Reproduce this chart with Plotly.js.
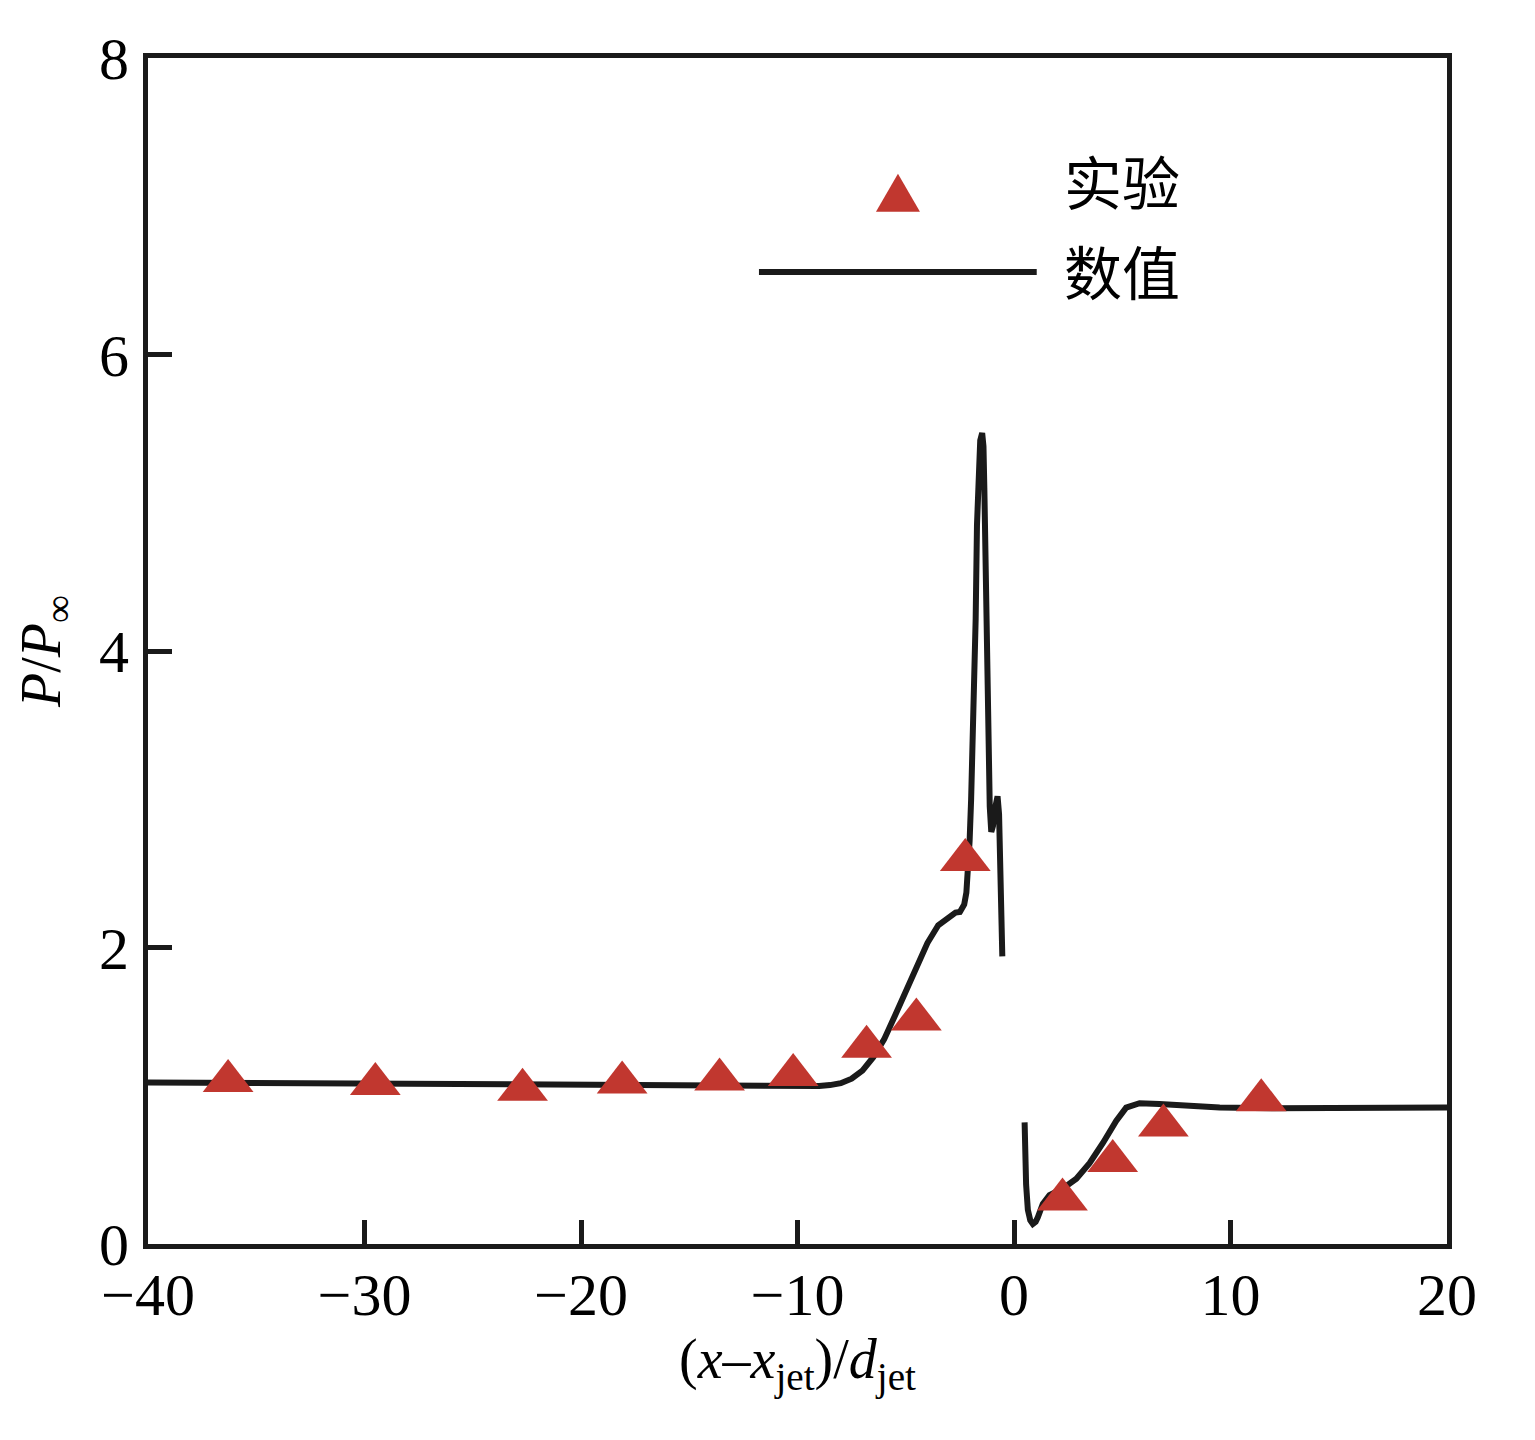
<!DOCTYPE html>
<html>
<head>
<meta charset="utf-8">
<script src="https://cdn.plot.ly/plotly-3.0.1.min.js"></script>
<style>
  body { margin: 0; background: #ffffff; }
  #chart { width: 1535px; height: 1440px; }
</style>
</head>
<body>
<div id="chart"></div>
<script>
// experiment (triangles)
var expX = [-36.3, -29.5, -22.7, -18.1, -13.6, -10.2, -6.81, -4.51, -2.25, 2.24, 4.56, 6.90, 11.42];
var expY = [1.10, 1.08, 1.04, 1.09, 1.11, 1.14, 1.33, 1.515, 2.59, 0.30, 0.56, 0.80, 0.97];

// numerical curve, null = gap at the jet
var numX = [-40, -35, -30, -25, -20, -15, -10, -9, -8.5, -8, -7.5, -7, -6.5, -6, -5.5, -5, -4.5, -4, -3.5, -3, -2.7, -2.5,
  -2.4, -2.3, -2.2, -2.12, -2.05, -1.98, -1.93, -1.85, -1.77, -1.71, -1.65, -1.56, -1.47, -1.41, -1.37, -1.32, -1.27,
  -1.2, -1.12, -1.05, -0.97, -0.86, -0.76, -0.69, -0.63, -0.54,
  null,
  0.49, 0.52, 0.56, 0.64, 0.75, 0.87, 1.0, 1.1, 1.33, 1.64, 2.0, 2.26, 2.88, 3.49, 4.1, 4.72, 5.18, 5.8, 6.72, 7.95,
  9.5, 12, 15, 18, 20];
var numY = [1.09, 1.085, 1.078, 1.072, 1.068, 1.066, 1.063, 1.066, 1.072, 1.085, 1.115, 1.17, 1.26, 1.38, 1.54, 1.71, 1.88, 2.03, 2.15, 2.21, 2.235, 2.24,
  2.26, 2.29, 2.37, 2.5, 2.72, 3.0, 3.27, 3.75, 4.22, 4.85, 5.2, 5.42, 5.47, 5.38, 5.1, 4.6, 4.0,
  3.27, 2.95, 2.78, 2.82, 2.95, 3.02, 2.9, 2.5, 1.94,
  null,
  0.82, 0.6, 0.4, 0.23, 0.16, 0.135, 0.15, 0.18, 0.27, 0.33, 0.355, 0.375, 0.44, 0.545, 0.68, 0.83, 0.92, 0.95, 0.945, 0.93,
  0.92, 0.915, 0.915, 0.92, 0.92];

var xTicks = [-40, -30, -20, -10, 0, 10, 20];
var yTicks = [0, 2, 4, 6, 8];
var legendNames = ['实验', '数值'];

var ink = '#1a1a1a';
var red = '#c1372f';
var serif = '"Liberation Serif", "Times New Roman", serif';
var cjk = '"Noto Sans CJK SC", sans-serif';

var traces = [
  {
    x: numX, y: numY,
    type: 'scatter', mode: 'lines',
    name: legendNames[1],
    connectgaps: false,
    line: {color: ink, width: 6},
    showlegend: false
  },
  {
    x: expX, y: expY,
    type: 'scatter', mode: 'markers',
    name: legendNames[0],
    marker: {symbol: 'triangle-up', size: 44, color: red, line: {width: 0}},
    showlegend: false
  }
];

function axisBase() {
  return {
    showgrid: false,
    zeroline: false,
    showline: true,
    mirror: true,
    linecolor: ink,
    linewidth: 5,
    ticks: 'inside',
    ticklen: 24,
    tickwidth: 5,
    tickcolor: ink,
    tickfont: {family: serif, size: 60, color: '#000000'}
  };
}

var xaxis = axisBase();
xaxis.range = [-40, 20];
xaxis.tickmode = 'array';
xaxis.tickvals = xTicks;
xaxis.ticklabelstandoff = -6;
xaxis.title = {
  text: '(<i>x</i>–<i>x</i><sub>jet</sub>)/<i>d</i><sub>jet</sub>',
  font: {family: serif, size: 56, color: '#000000'},
  standoff: 12
};

var yaxis = axisBase();
yaxis.range = [0, 8];
yaxis.tickmode = 'array';
yaxis.tickvals = yTicks;
yaxis.ticklabelstandoff = 2;
yaxis.title = {
  text: '<i>P</i>/<i>P</i><sub>∞</sub>',
  font: {family: serif, size: 56, color: '#000000'},
  standoff: 22
};

var layout = {
  width: 1535,
  height: 1440,
  margin: {l: 148, r: 88, t: 58, b: 196, pad: 0},
  paper_bgcolor: '#ffffff',
  plot_bgcolor: '#ffffff',
  showlegend: false,
  xaxis: xaxis,
  yaxis: yaxis,
  // hand-made legend: long line key, triangle key, CJK labels
  shapes: [
    {
      type: 'line', xref: 'x', yref: 'y',
      x0: -11.78, x1: 1.05, y0: 6.556, y1: 6.556,
      line: {color: ink, width: 6}
    },
    {
      type: 'path', xref: 'x', yref: 'y',
      xsizemode: 'pixel', ysizemode: 'pixel',
      xanchor: -5.36, yanchor: 7.05,
      path: 'M-22,-13 L22,-13 L0,25 Z',
      fillcolor: red,
      line: {width: 0}
    }
  ],
  annotations: [
    {
      xref: 'x', yref: 'y', x: 2.2, y: 7.18,
      xanchor: 'left', yanchor: 'middle',
      text: legendNames[0], showarrow: false,
      font: {family: cjk, size: 58, color: '#000000'}
    },
    {
      xref: 'x', yref: 'y', x: 2.2, y: 6.57,
      xanchor: 'left', yanchor: 'middle',
      text: legendNames[1], showarrow: false,
      font: {family: cjk, size: 58, color: '#000000'}
    }
  ]
};

var config = {staticPlot: true, displayModeBar: false};

Plotly.newPlot('chart', traces, layout, config);
</script>
</body>
</html>
